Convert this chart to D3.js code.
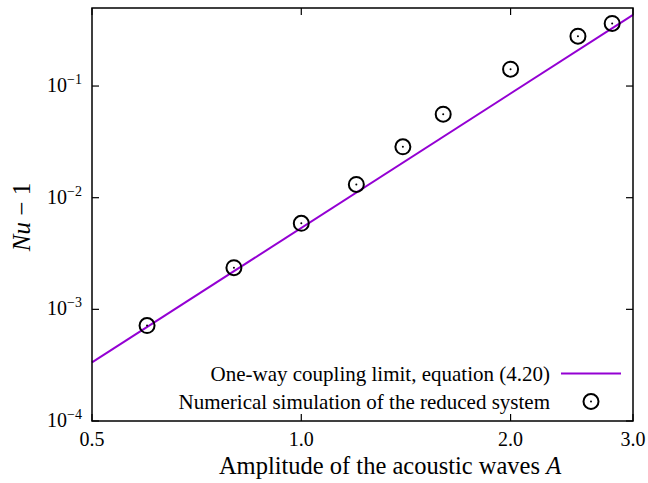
<!DOCTYPE html>
<html><head><meta charset="utf-8">
<script src="https://cdn.jsdelivr.net/npm/d3@7"></script>
<style>body{margin:0;background:#fff}svg{display:block}</style>
</head><body><svg id="c" width="648" height="483"></svg>
<script>
const simA = [0.6, 0.8, 1.0, 1.2, 1.4, 1.6, 2.0, 2.5, 2.8];
const simNu = [7.16e-4, 2.36e-3, 5.89e-3, 1.315e-2, 2.855e-2, 5.6e-2, 0.1417, 0.2797, 0.3635];
const lineA = [0.5, 3.0];
const lineNu = [3.35e-4, 0.434];
const xTicks = [0.5, 1.0, 2.0, 3.0];
const xTickLabels = ["0.5", "1.0", "2.0", "3.0"];
const yTicks = [1e-4, 1e-3, 1e-2, 1e-1];
const yTickExp = ["−4", "−3", "−2", "−1"];
const legendLabels = ["One-way coupling limit, equation (4.20)", "Numerical simulation of the reduced system"];

const F = "'Liberation Serif', Tinos, 'Times New Roman', Times";
const L = 92, R = 633, T = 8, B = 421;
const svg = d3.select("#c");
const x = d3.scaleLog().domain([0.5, 3.0]).range([L, R]);
const y = d3.scaleLog().domain([1e-4, 0.5]).range([B, T]);
const tl = 7;

function txt(sel) { return sel.append("text").style("font-family", F); }

const g = svg.append("g");
xTicks.forEach((t, i) => {
  g.append("line").attr("x1", x(t)).attr("x2", x(t)).attr("y1", B).attr("y2", B - tl).attr("stroke", "#000").attr("stroke-width", 1.2);
  g.append("line").attr("x1", x(t)).attr("x2", x(t)).attr("y1", T).attr("y2", T + tl).attr("stroke", "#000").attr("stroke-width", 1.2);
  txt(g).attr("x", x(t)).attr("y", 446).attr("text-anchor", "middle").style("font-size", "20px").text(xTickLabels[i]);
});
yTicks.forEach((t, i) => {
  g.append("line").attr("x1", L).attr("x2", L + tl).attr("y1", y(t)).attr("y2", y(t)).attr("stroke", "#000").attr("stroke-width", 1.2);
  g.append("line").attr("x1", R).attr("x2", R - tl).attr("y1", y(t)).attr("y2", y(t)).attr("stroke", "#000").attr("stroke-width", 1.2);
  const tx = txt(g).attr("x", 82).attr("y", y(t) + 6).attr("text-anchor", "end").style("font-size", "20px");
  tx.append("tspan").text("10");
  tx.append("tspan").attr("dy", -8).style("font-size", "14px").text(yTickExp[i]);
});

const lineData = lineA.map((a, i) => [a, lineNu[i]]);
svg.append("path").datum(lineData)
  .attr("d", d3.line().x(d => x(d[0])).y(d => y(d[1])))
  .attr("fill", "none").attr("stroke", "#9400d3").attr("stroke-width", 2);

simA.forEach((a, i) => {
  svg.append("circle").attr("cx", x(a)).attr("cy", y(simNu[i])).attr("r", 7.5)
    .attr("fill", "none").attr("stroke", "#000").attr("stroke-width", 2);
  svg.append("circle").attr("cx", x(a)).attr("cy", y(simNu[i])).attr("r", 1).attr("fill", "#000");
});

svg.append("rect").attr("x", L).attr("y", T).attr("width", R - L).attr("height", B - T)
  .attr("fill", "none").attr("stroke", "#000").attr("stroke-width", 1.5);

txt(svg).attr("x", 550).attr("y", 381).attr("text-anchor", "end").style("font-size", "21px").text(legendLabels[0]);
svg.append("line").attr("x1", 561).attr("x2", 621).attr("y1", 373.5).attr("y2", 373.5).attr("stroke", "#9400d3").attr("stroke-width", 2);
txt(svg).attr("x", 550).attr("y", 408.5).attr("text-anchor", "end").style("font-size", "21px").text(legendLabels[1]);
svg.append("circle").attr("cx", 591).attr("cy", 401.5).attr("r", 7.5).attr("fill", "none").attr("stroke", "#000").attr("stroke-width", 2);
svg.append("circle").attr("cx", 591).attr("cy", 401.5).attr("r", 1).attr("fill", "#000");

const xt = txt(svg).attr("x", 390).attr("y", 474).attr("text-anchor", "middle").style("font-size", "24.5px");
xt.append("tspan").text("Amplitude of the acoustic waves ");
xt.append("tspan").style("font-style", "italic").text("A");
const yt = txt(svg).attr("transform", "translate(30,217) rotate(-90)").attr("text-anchor", "middle").style("font-size", "25px");
yt.append("tspan").style("font-style", "italic").text("Nu");
yt.append("tspan").text(" − 1");
</script></body></html>
